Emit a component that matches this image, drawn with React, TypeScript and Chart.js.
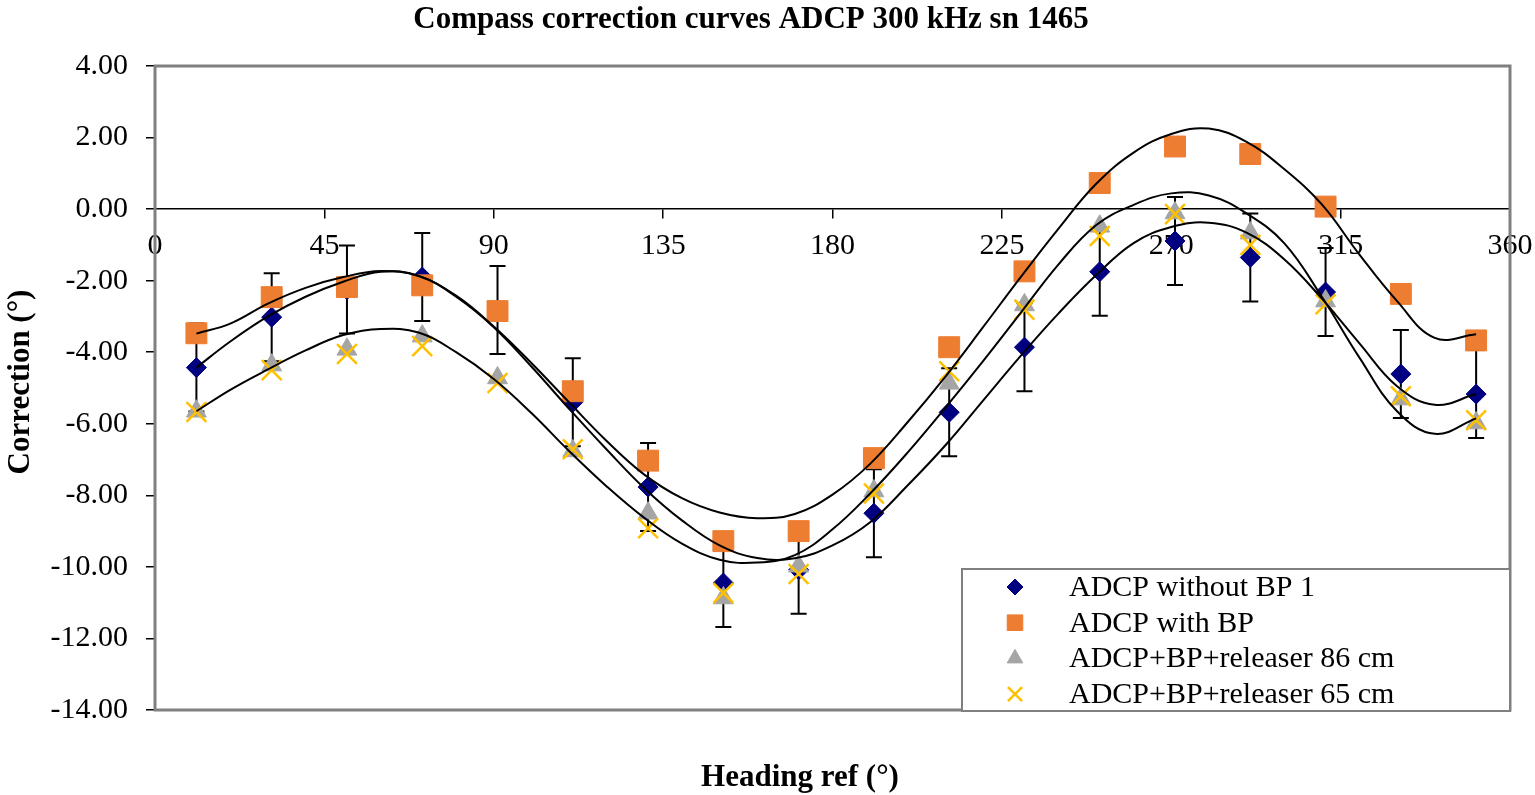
import React, { useEffect, useRef } from 'react';
import { Chart, registerables } from 'chart.js';
import { drawPoint } from 'chart.js/helpers';

Chart.register(...registerables);

// heading of each measurement (deg)
const headingRef = [11, 31, 51, 71, 91, 111, 131, 151, 171, 191, 211, 231, 251, 271, 291, 311, 331, 351];

// measured corrections (deg)
const withoutBP = [-4.43, -3.02, -2.25, -1.9, -2.82, -5.4, -7.77, -10.45, -10.08, -8.5, -5.68, -3.86, -1.75, -0.89, -1.35, -2.32, -4.61, -5.17];
const withBP = [-3.47, -2.46, -2.18, -2.13, -2.85, -5.09, -7.03, -9.28, -9.0, -6.96, -3.86, -1.74, 0.73, 1.75, 1.54, 0.07, -2.37, -3.67];
const releaser86 = [-5.65, -4.36, -3.92, -3.55, -4.72, -6.76, -8.5, -10.87, -9.98, -7.88, -4.87, -2.68, -0.48, -0.11, -0.67, -2.57, -5.31, -5.98];
const releaser65 = [-5.67, -4.5, -4.05, -3.83, -4.86, -6.71, -8.92, -10.73, -10.2, -7.95, -4.53, -2.81, -0.75, -0.14, -1.0, -2.66, -5.23, -5.9];

// error bars on "without BP" (+/-)
const withoutBPError = [1.23, 1.23, 1.23, 1.23, 1.23, 1.23, 1.23, 1.23, 1.23, 1.23, 1.23, 1.23, 1.23, 1.23, 1.23, 1.23, 1.23, 1.23];

// fitted curves
const curveX = [11, 20, 30, 40, 50, 60, 70, 80, 90, 100, 110, 120, 130, 140, 150, 160, 170, 180, 190, 200, 210, 220, 230, 240, 250, 260, 270, 280, 290, 300, 310, 320, 330, 340, 351];
const fitWithBP = [-3.48, -3.2, -2.64, -2.2, -1.9, -1.73, -1.87, -2.42, -3.28, -4.3, -5.4, -6.48, -7.42, -8.08, -8.48, -8.64, -8.52, -7.98, -7.12, -5.95, -4.68, -3.3, -1.9, -0.55, 0.7, 1.58, 2.1, 2.25, 1.88, 1.12, 0.13, -1.27, -2.57, -3.6, -3.5];
const fitWithoutBP = [-4.43, -3.7, -3.0, -2.45, -2.03, -1.75, -1.86, -2.45, -3.3, -4.4, -5.58, -6.72, -7.8, -8.7, -9.4, -9.75, -9.76, -9.4, -8.75, -7.72, -6.6, -5.35, -4.1, -2.92, -1.85, -0.95, -0.5, -0.38, -0.66, -1.4, -2.5, -3.75, -4.95, -5.47, -5.17];
const fit86 = [-5.65, -5.05, -4.48, -3.95, -3.52, -3.35, -3.45, -4.0, -4.75, -5.7, -6.76, -7.75, -8.63, -9.35, -9.8, -9.88, -9.67, -8.95, -7.95, -6.8, -5.55, -4.25, -2.9, -1.55, -0.45, 0.12, 0.44, 0.38, -0.12, -0.95, -2.45, -4.15, -5.65, -6.28, -5.85];

const yTicks = [4, 2, 0, -2, -4, -6, -8, -10, -12, -14];
const xTicks = [0, 45, 90, 135, 180, 225, 270, 315, 360];

const SERIF = '"Liberation Serif", "Times New Roman", serif';

const toPoints = (xs: number[], ys: number[]) => xs.map((x, i) => ({ x, y: ys[i] }));

interface MarkerDef {
  label: string;
  values: number[];
  pointStyle: string;
  radius: number;
  legendRadius: number;
  fill: string;
  stroke: string;
  borderWidth: number;
}

const markers: MarkerDef[] = [
  { label: 'ADCP without BP 1', values: withoutBP, pointStyle: 'rectRot', radius: 10, legendRadius: 8, fill: '#000080', stroke: '#000080', borderWidth: 1 },
  { label: 'ADCP with BP', values: withBP, pointStyle: 'rect', radius: 14.8, legendRadius: 11, fill: '#ED7D31', stroke: '#ED7D31', borderWidth: 1 },
  { label: 'ADCP+BP+releaser 86 cm', values: releaser86, pointStyle: 'triangle', radius: 11.5, legendRadius: 9, fill: '#A5A5A5', stroke: '#A5A5A5', borderWidth: 1 },
  { label: 'ADCP+BP+releaser 65 cm', values: releaser65, pointStyle: 'crossRot', radius: 14, legendRadius: 10, fill: '#FFC000', stroke: '#FFC000', borderWidth: 2.5 },
];

const decorPlugin = {
  id: 'decor',
  beforeDatasetsDraw(chart: any) {
    const { ctx, chartArea: a } = chart;
    ctx.save();
    ctx.strokeStyle = '#808080';
    ctx.lineWidth = 3;
    ctx.strokeRect(a.left, a.top, a.right - a.left, a.bottom - a.top);
    ctx.restore();
  },
  beforeDatasetDraw(chart: any, args: any) {
    if (args.index !== 0) return;
    const { ctx, scales } = chart;
    ctx.save();
    ctx.strokeStyle = '#000000';
    ctx.lineWidth = 2;
    headingRef.forEach((h, i) => {
      const px = scales.x.getPixelForValue(h);
      const top = scales.y.getPixelForValue(withoutBP[i] + withoutBPError[i]);
      const bot = scales.y.getPixelForValue(withoutBP[i] - withoutBPError[i]);
      ctx.beginPath();
      ctx.moveTo(px, top);
      ctx.lineTo(px, bot);
      ctx.moveTo(px - 8, top);
      ctx.lineTo(px + 8, top);
      ctx.moveTo(px - 8, bot);
      ctx.lineTo(px + 8, bot);
      ctx.stroke();
    });
    ctx.restore();
  },
  afterDraw(chart: any) {
    const { ctx, chartArea: a } = chart;
    ctx.save();
    ctx.fillStyle = '#000000';

    // title
    ctx.font = `bold 31px ${SERIF}`;
    ctx.textAlign = 'center';
    ctx.textBaseline = 'alphabetic';
    ctx.fillText('Compass correction curves ADCP 300 kHz sn 1465', 751, 28);

    // axis titles
    ctx.font = `bold 31px ${SERIF}`;
    ctx.fillText('Heading ref (°)', 800, 786);
    ctx.save();
    ctx.translate(29, 382);
    ctx.rotate(-Math.PI / 2);
    ctx.fillText('Correction (°)', 0, 0);
    ctx.restore();

    // legend box
    const lx = a.right - 548;
    const ly = a.bottom - 141;
    ctx.fillStyle = '#ffffff';
    ctx.fillRect(lx, ly, 548, 142);
    ctx.strokeStyle = '#808080';
    ctx.lineWidth = 2;
    ctx.strokeRect(lx, ly, 548, 142);
    ctx.font = `30px ${SERIF}`;
    ctx.textAlign = 'left';
    ctx.textBaseline = 'middle';
    markers.forEach((m, i) => {
      const cy = ly + 18 + i * 35.7;
      ctx.fillStyle = m.fill;
      ctx.strokeStyle = m.stroke;
      ctx.lineWidth = m.borderWidth;
      drawPoint(ctx, { pointStyle: m.pointStyle as any, radius: m.legendRadius, rotation: 0, borderWidth: m.borderWidth }, lx + 53, cy);
      ctx.fillStyle = '#000000';
      ctx.fillText(m.label, lx + 107, cy + 1);
    });
    ctx.restore();
  },
};

const App: React.FC = () => {
  const chartRef = useRef<HTMLCanvasElement | null>(null);
  const chartInstanceRef = useRef<Chart | null>(null);

  useEffect(() => {
    if (chartInstanceRef.current) {
      chartInstanceRef.current.destroy();
    }
    const ctx = chartRef.current?.getContext('2d');
    if (!ctx) return;

    const markerSets = markers.map((m, i) => ({
      label: m.label,
      data: toPoints(headingRef, m.values),
      showLine: false,
      pointStyle: m.pointStyle,
      pointRadius: m.radius,
      pointBackgroundColor: m.fill,
      pointBorderColor: m.stroke,
      pointBorderWidth: m.borderWidth,
      order: 10 - i,
    }));

    const curveSets = [fitWithoutBP, fitWithBP, fit86].map((vals, i) => ({
      label: 'fit ' + i,
      data: toPoints(curveX, vals),
      showLine: true,
      borderColor: '#000000',
      borderWidth: 2,
      pointRadius: 0,
      tension: 0.4,
      fill: false,
      order: 1,
    }));

    chartInstanceRef.current = new Chart(ctx, {
      type: 'scatter',
      data: { datasets: [...markerSets, ...curveSets] as any },
      options: {
        responsive: true,
        maintainAspectRatio: false,
        animation: false,
        events: [],
        layout: { padding: { top: 66, right: 25, bottom: 85, left: 0 } },
        plugins: {
          legend: { display: false },
          tooltip: { enabled: false },
          title: { display: false },
        },
        scales: {
          x: {
            type: 'linear',
            min: 0,
            max: 360,
            position: { y: 0 } as any,
            afterFit: (s: any) => {
              s.height = 0;
              s.paddingLeft = 0;
              s.paddingRight = 0;
            },
            afterBuildTicks: (s: any) => { s.ticks = xTicks.map((v) => ({ value: v })); },
            ticks: {
              color: '#000000',
              font: { family: SERIF, size: 30 },
              padding: 10,
              maxRotation: 0,
              autoSkip: false,
              callback: (v: any) => String(v),
            },
            grid: { drawOnChartArea: false, drawTicks: true, tickLength: 9, color: '#000000', lineWidth: 1.5 },
            border: { display: true, color: '#000000', width: 1.5 },
          },
          y: {
            type: 'linear',
            min: -14,
            max: 4,
            afterFit: (s: any) => {
              s.width = 155;
              s.paddingTop = 0;
              s.paddingBottom = 0;
            },
            afterBuildTicks: (s: any) => { s.ticks = yTicks.map((v) => ({ value: v })); },
            ticks: {
              color: '#000000',
              font: { family: SERIF, size: 30 },
              padding: 18,
              autoSkip: false,
              callback: (v: any) => Number(v).toFixed(2),
            },
            grid: { drawOnChartArea: false, drawTicks: true, tickLength: 9, color: '#000000', lineWidth: 1.5 },
            border: { display: true, color: '#000000', width: 1 },
          },
        },
      },
      plugins: [decorPlugin],
    });

    return () => {
      if (chartInstanceRef.current) {
        chartInstanceRef.current.destroy();
        chartInstanceRef.current = null;
      }
    };
  }, []);

  return (
    <div style={{ position: 'fixed', left: 0, top: 0, width: '1535px', height: '795px', background: '#ffffff' }}>
      <canvas ref={chartRef} style={{ width: '100%', height: '100%' }}></canvas>
    </div>
  );
};

export default App;
